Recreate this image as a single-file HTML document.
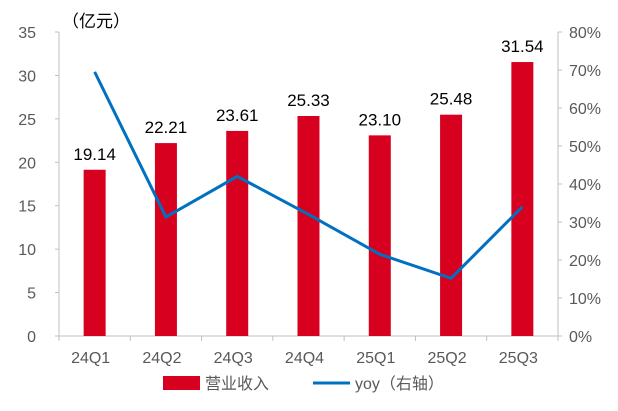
<!DOCTYPE html>
<html><head><meta charset="utf-8"><style>
body{margin:0;background:#fff;}
svg text{font-family:"Liberation Sans","Noto Sans CJK SC",sans-serif;}
</style></head><body>
<svg id="chart" width="618" height="406"></svg>
<script>
const categories=["24Q1","24Q2","24Q3","24Q4","25Q1","25Q2","25Q3"];
const revenue=[19.14,22.21,23.61,25.33,23.10,25.48,31.54];
const yoy=[69.5,31.3,42.0,32.0,21.5,15.2,34.0];
const leftTicks=[0,5,10,15,20,25,30,35];
const rightTicks=[0,10,20,30,40,50,60,70,80];
const NS="http://www.w3.org/2000/svg";
const svg=document.getElementById('chart');
const x0=59,x1=558,yB=336,yT=32;
const yL=v=>yB-(v/35)*(yB-yT);
const yR=v=>yB-(v/80)*(yB-yT);
const step=(x1-x0)/categories.length;
const xC=i=>x0+step*(i+0.5);
function el(t,a,txt){const e=document.createElementNS(NS,t);for(const k in a)e.setAttribute(k,a[k]);if(txt!==undefined)e.textContent=txt;svg.appendChild(e);return e;}
let e;
e=el('line',{x1:x0,x2:x0,y1:yT,y2:yB,stroke:'#bfbfbf'});


e=el('line',{x1:x1,x2:x1,y1:yT,y2:yB,stroke:'#bfbfbf'});


e=el('line',{x1:x0,x2:x1,y1:yB,y2:yB,stroke:'#bfbfbf'});


leftTicks.forEach(v=>{
 e=el('text',{x:36,y:yL(v)+6,'text-anchor':'end','font-size':16,fill:'#595959'},String(v));
 
 
 el('line',{x1:x0-4,x2:x0,y1:yL(v),y2:yL(v),stroke:'#bfbfbf'});
});
rightTicks.forEach(v=>{
 e=el('text',{x:569,y:yR(v)+6,'font-size':16,fill:'#595959'},v+'%');
 
 
 el('line',{x1:x1,x2:x1+4,y1:yR(v),y2:yR(v),stroke:'#bfbfbf'});
});
for(let i=0;i<=categories.length;i++){el('line',{x1:x0+step*i,x2:x0+step*i,y1:yB,y2:yB+5,stroke:'#bfbfbf'});}
categories.forEach((c,i)=>{
 e=el('text',{x:xC(i)-4,y:363,'text-anchor':'middle','font-size':16,fill:'#595959'},c);
 
 
});
revenue.forEach((v,i)=>{
 e=el('rect',{x:xC(i)-11,y:yL(v),width:22,height:yB-yL(v),fill:'#d7001e'});
 
 
 e=el('text',{x:xC(i),y:yL(v)-10,'text-anchor':'middle','font-size':17,fill:'#000'},v.toFixed(2));
 
 
});
e=el('polyline',{points:yoy.map((v,i)=>xC(i)+','+yR(v)).join(' '),fill:'none',stroke:'#0070c0','stroke-width':3});


e=el('text',{x:62,y:27,'font-size':17,fill:'#000'},'（亿元）');


e=el('rect',{x:163,y:376,width:37,height:14,fill:'#d7001e'});


e=el('text',{x:205,y:389,'font-size':16,fill:'#595959'},'营业收入');


e=el('line',{x1:313,x2:350,y1:383,y2:383,stroke:'#0070c0','stroke-width':3});


e=el('text',{x:355,y:389,'font-size':16,fill:'#595959'},'yoy（右轴）');


</script>
</body></html>
